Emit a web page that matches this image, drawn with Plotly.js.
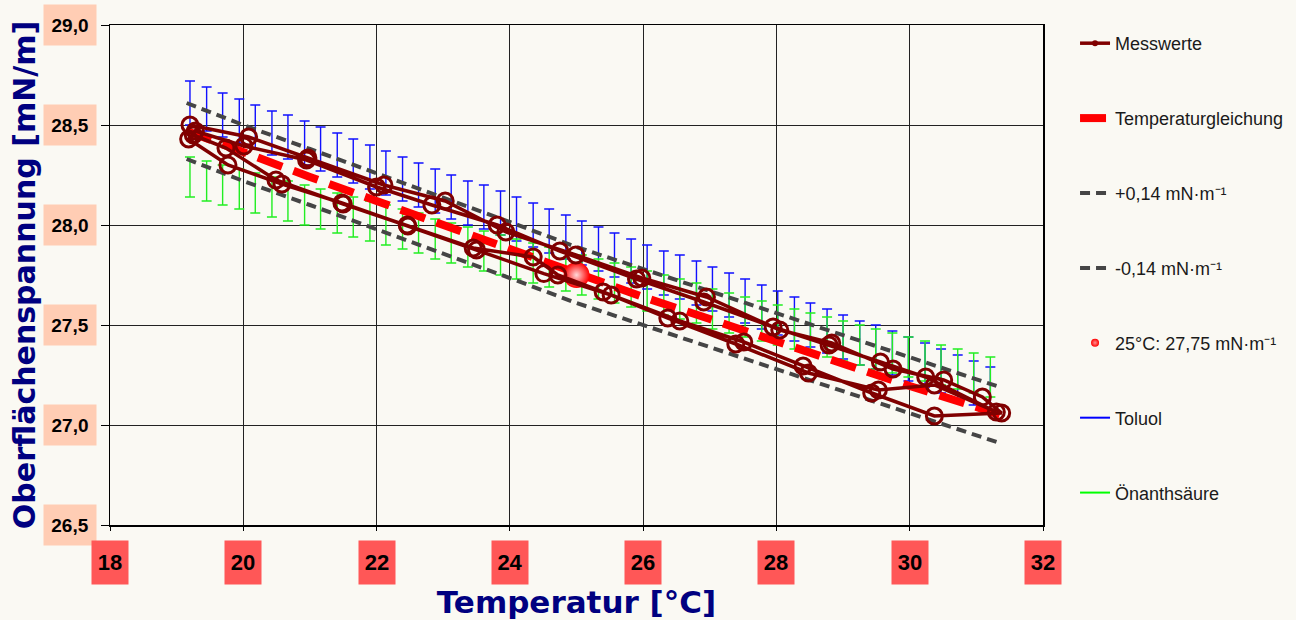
<!DOCTYPE html>
<html>
<head>
<meta charset="utf-8">
<script src="https://cdn.plot.ly/plotly-3.0.1.min.js"></script>
<style>html,body{margin:0;padding:0;background:#FAF9F3;}</style>
</head>
<body>
<div id="chart" style="width:1296px;height:620px;"></div>
<script>
// Measured values (sweeps heating / cooling)
const messT = [19.20, 20.08, 20.97, 22.11, 23.03, 23.94, 24.99, 25.98, 26.95, 28.05, 28.83, 29.75, 30.51, 31.09, 31.38,
  30.37, 29.43, 28.40, 27.51, 26.55, 25.52, 24.51, 23.50, 22.46, 21.48, 20.58, 19.77, 19.18,
  19.28, 20.01, 20.95, 22.00, 22.83, 23.81, 24.75, 25.90, 26.91, 27.95, 28.79, 29.56, 30.24, 31.30,
  30.37, 29.53, 28.48, 27.39, 26.37, 25.40, 24.72, 24.35, 23.45, 22.47, 21.50, 20.49, 19.74, 19.25];
const messY = [28.50, 28.44, 28.335, 28.20, 28.12, 27.965, 27.85, 27.735, 27.64, 27.475, 27.41, 27.28, 27.225, 27.14, 27.06,
  27.045, 27.16, 27.295, 27.415, 27.52, 27.65, 27.757, 27.875, 28.00, 28.11, 28.205, 28.30, 28.43,
  28.47, 28.395, 28.325, 28.19, 28.10, 28.00, 27.87, 27.73, 27.615, 27.49, 27.40, 27.315, 27.24, 27.065,
  27.20, 27.175, 27.26, 27.405, 27.535, 27.665, 27.75, 27.84, 27.885, 27.995, 28.105, 28.225, 28.385, 28.45];

// Temperature equation and tolerance band
const eqT = [19.15, 20, 21, 22, 23, 24, 25, 26, 27, 28, 29, 30, 31, 31.35];
const eqY = [28.47, 28.36, 28.24, 28.12, 28.00, 27.875, 27.75, 27.64, 27.53, 27.415, 27.305, 27.195, 27.09, 27.05];
const upY = [28.61, 28.50, 28.38, 28.26, 28.14, 28.015, 27.89, 27.78, 27.67, 27.555, 27.445, 27.335, 27.23, 27.19];
const loY = [28.33, 28.22, 28.10, 27.98, 27.86, 27.735, 27.61, 27.50, 27.39, 27.275, 27.165, 27.055, 26.95, 26.91];

// Reference point
const refT = [25];
const refY = [27.75];

// Reference liquids (bars)
const refBarT = [19.20, 19.45, 19.69, 19.94, 20.18, 20.43, 20.67, 20.92, 21.16, 21.41, 21.65, 21.90, 22.14, 22.39, 22.63,
  22.88, 23.12, 23.37, 23.61, 23.86, 24.10, 24.35, 24.59, 24.84, 25.08, 25.33, 25.57, 25.82, 26.06, 26.31, 26.55, 26.80,
  27.04, 27.29, 27.53, 27.78, 28.02, 28.27, 28.51, 28.76, 29.00, 29.25, 29.49, 29.74, 29.98, 30.23, 30.47, 30.72, 30.96, 31.21];
const toluolY = [28.61, 28.58, 28.55, 28.52, 28.49, 28.46, 28.44, 28.41, 28.38, 28.35, 28.32, 28.29, 28.26, 28.23, 28.20,
  28.17, 28.14, 28.11, 28.09, 28.06, 28.03, 28.00, 27.97, 27.94, 27.91, 27.88, 27.85, 27.82, 27.79, 27.76, 27.74, 27.71,
  27.68, 27.65, 27.62, 27.59, 27.56, 27.53, 27.50, 27.47, 27.44, 27.41, 27.39, 27.36, 27.33, 27.30, 27.27, 27.24, 27.21, 27.18];
const toluolErr = 0.11;
const oenY = [28.24, 28.22, 28.20, 28.18, 28.16, 28.14, 28.12, 28.10, 28.08, 28.06, 28.04, 28.02, 28.00, 27.98, 27.96,
  27.93, 27.91, 27.89, 27.87, 27.85, 27.83, 27.81, 27.79, 27.77, 27.75, 27.73, 27.71, 27.69, 27.67, 27.65, 27.63, 27.61,
  27.58, 27.56, 27.54, 27.52, 27.50, 27.48, 27.46, 27.44, 27.42, 27.40, 27.38, 27.36, 27.34, 27.32, 27.30, 27.28, 27.26, 27.24];
const oenErr = 0.10;

// Ticks
const xTickVals = [18, 20, 22, 24, 26, 28, 30, 32];
const xTickText = ['18', '20', '22', '24', '26', '28', '30', '32'];
const yTickVals = [26.5, 27.0, 27.5, 28.0, 28.5, 29.0];
const yTickText = ['26,5', '27,0', '27,5', '28,0', '28,5', '29,0'];

const names = {
  mess: 'Messwerte',
  eq: 'Temperaturgleichung',
  up: '+0,14 mN·m⁻¹',
  lo: '-0,14 mN·m⁻¹',
  ref: '25°C: 27,75 mN·m⁻¹',
  tol: 'Toluol',
  oen: 'Önanthsäure'
};

const maroon = '#800000';
const traces = [
  { x: refBarT, y: toluolY, type: 'scatter', mode: 'markers', marker: {size: 0.1, color: '#0000FF'},
    error_y: {type: 'constant', value: toluolErr, color: '#1010FF', thickness: 1.4, width: 5},
    showlegend: false, legendgroup: 'g6', hoverinfo: 'skip' },
  { x: refBarT, y: oenY, type: 'scatter', mode: 'markers', marker: {size: 0.1, color: '#00EE00'},
    error_y: {type: 'constant', value: oenErr, color: '#22EE22', thickness: 1.4, width: 5},
    showlegend: false, legendgroup: 'g7', hoverinfo: 'skip' },
  { x: eqT, y: upY, type: 'scatter', mode: 'lines', name: names.up, legendgroup: 'g3', legendrank: 3,
    line: {color: '#454545', width: 4, dash: '10px,6px'} },
  { x: eqT, y: loY, type: 'scatter', mode: 'lines', name: names.lo, legendgroup: 'g4', legendrank: 4,
    line: {color: '#454545', width: 4, dash: '10px,6px'} },
  { x: eqT, y: eqY, type: 'scatter', mode: 'lines', name: names.eq, legendgroup: 'g2', legendrank: 2,
    line: {color: '#FF0000', width: 8, dash: '26px,12px'} },
  { x: refT, y: refY, type: 'scatter', mode: 'markers', showlegend: false, legendgroup: 'g5',
    marker: {size: 26, color: '#FF0000', gradient: {type: 'radial', color: '#FFD8D8'}} },
  { x: messT, y: messY, type: 'scatter', mode: 'lines+markers', showlegend: false, legendgroup: 'g1',
    line: {color: maroon, width: 3.5},
    marker: {symbol: 'circle-open', size: 16, color: maroon, line: {width: 3, color: maroon}} },
  // legend entries
  { x: [null], y: [null], type: 'scatter', mode: 'lines+markers', name: names.mess, legendgroup: 'g1', legendrank: 1,
    line: {color: maroon, width: 3.5}, marker: {size: 6, color: maroon} },
  { x: [null], y: [null], type: 'scatter', mode: 'markers', name: names.ref, legendgroup: 'g5', legendrank: 5,
    marker: {size: 8, color: '#FF0000', gradient: {type: 'radial', color: '#FF9090'}} },
  { x: [null], y: [null], type: 'scatter', mode: 'lines', name: names.tol, legendgroup: 'g6', legendrank: 6,
    line: {color: '#0000FF', width: 2} },
  { x: [null], y: [null], type: 'scatter', mode: 'lines', name: names.oen, legendgroup: 'g7', legendrank: 7,
    line: {color: '#00FF00', width: 2} }
];

const annotations = [];
yTickVals.forEach((v, i) => annotations.push({
  xref: 'paper', yref: 'y', x: -0.0429, y: v, xanchor: 'center', yanchor: 'middle',
  text: yTickText[i], showarrow: false, bgcolor: '#FFCDB4', width: 50, height: 38,
  font: {family: 'Liberation Sans, Arial, sans-serif', size: 19, color: '#000', weight: 'bold'}
}));
xTickVals.forEach((v, i) => annotations.push({
  xref: 'x', yref: 'paper', x: v, y: -0.074, xanchor: 'center', yanchor: 'middle',
  text: xTickText[i], showarrow: false, bgcolor: '#FF5757', width: 34, height: 41,
  font: {family: 'Liberation Sans, Arial, sans-serif', size: 22, color: '#000', weight: 'bold'}
}));

const layout = {
  width: 1296, height: 620,
  margin: {l: 110, r: 253, t: 25, b: 95, autoexpand: false},
  paper_bgcolor: '#FAF9F3', plot_bgcolor: '#FAF9F3',
  showlegend: true,
  legend: {
    xref: 'container', yref: 'container',
    x: 0.8295, xanchor: 'left', y: 0.9597, yanchor: 'top', maxheight: 600,
    bgcolor: 'rgba(0,0,0,0)', tracegroupgap: 48.5,
    font: {family: 'Liberation Sans, Arial, sans-serif', size: 18, color: '#1a1a1a'}
  },
  xaxis: {
    range: [18, 32], tickvals: xTickVals, showticklabels: false,
    showgrid: true, gridcolor: '#222', gridwidth: 1,
    showline: true, linecolor: '#000', linewidth: 1.5, mirror: true,
    ticks: 'outside', ticklen: 4, tickcolor: '#000', zeroline: false,
    title: {text: 'Temperatur [°C]', standoff: 64,
      font: {family: 'DejaVu Sans, sans-serif', size: 31, color: '#000080', weight: 'bold'}}
  },
  yaxis: {
    range: [26.5, 29.0], tickvals: yTickVals, showticklabels: false,
    showgrid: true, gridcolor: '#222', gridwidth: 1,
    showline: true, linecolor: '#000', linewidth: 1.5, mirror: true,
    ticks: 'outside', ticklen: 8, tickcolor: '#000', zeroline: false,
    title: {text: 'Oberflächenspannung [mN/m]', standoff: 56,
      font: {family: 'DejaVu Sans, sans-serif', size: 30, color: '#000080', weight: 'bold'}}
  },
  annotations: annotations
};

Plotly.newPlot('chart', traces, layout, {displayModeBar: false, staticPlot: true});
</script>
</body>
</html>
